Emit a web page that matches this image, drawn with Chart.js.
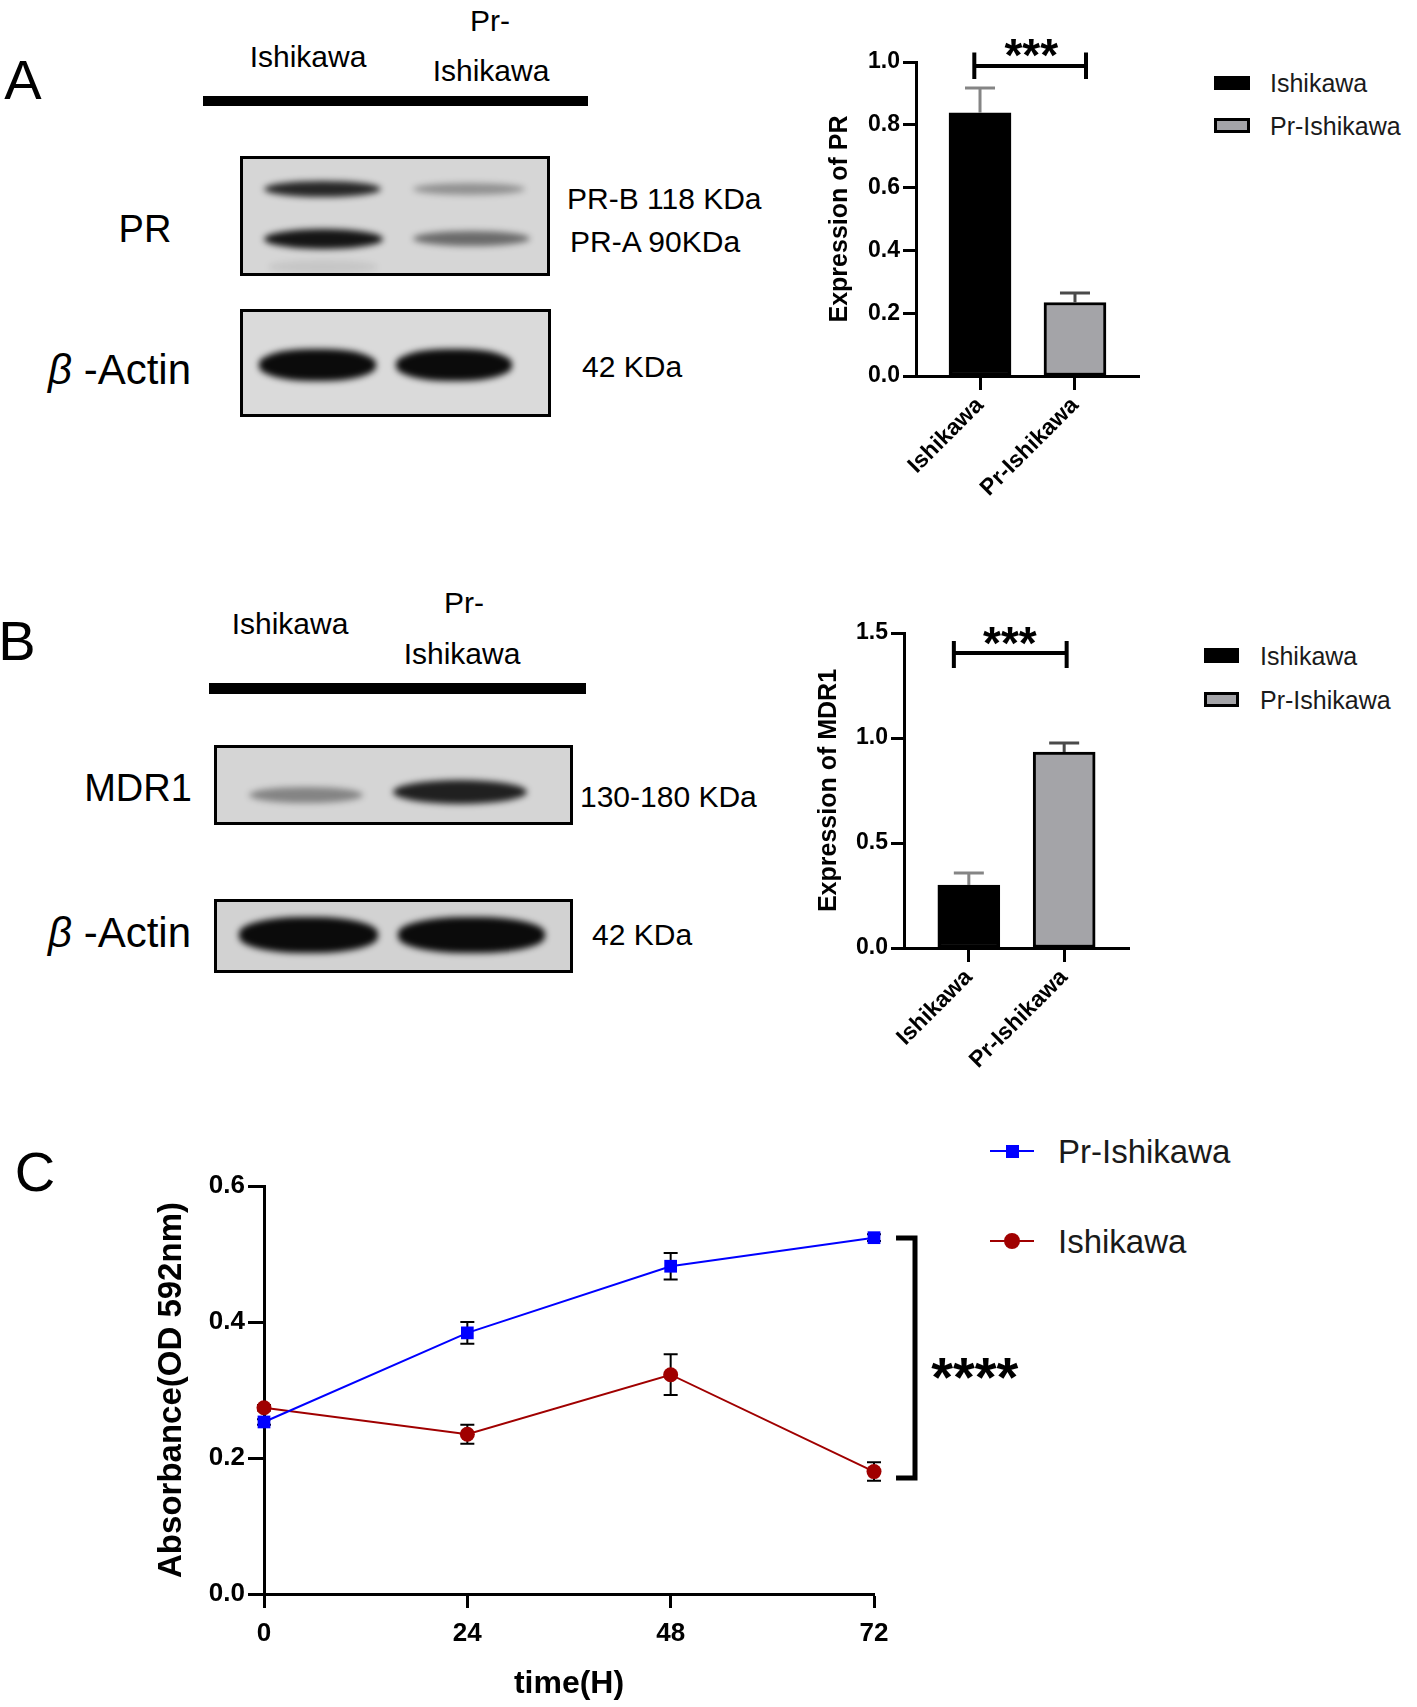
<!DOCTYPE html>
<html>
<head>
<meta charset="utf-8">
<script src="https://cdn.jsdelivr.net/npm/chart.js@4.4.1/dist/chart.umd.min.js"></script>
<style>
  html, body { margin:0; padding:0; background:#fff; }
  #page { position:relative; width:1417px; height:1707px; overflow:hidden; background:#fff; }
  .t { position:absolute; font-family:'Liberation Sans', Arial, sans-serif; color:#000; white-space:nowrap; line-height:1; }
  .c { transform:translate(-50%,-50%); }
  .l { transform:translateY(-50%); }
  .letter { font-size:56px; }
  .lane { font-size:30px; }
  .kda { font-size:30px; }
  .prot { font-size:38px; }
  .leg { font-size:25px; color:#1a1a1a; }
  .legC { font-size:33px; color:#1a1a1a; }
  .bar { position:absolute; background:#000; }
  .box { position:absolute; border:3px solid #000; box-sizing:border-box; overflow:hidden; }
  .band { position:absolute; border-radius:50%; filter:blur(3px); }
  .sw { position:absolute; box-sizing:border-box; }
  canvas { position:absolute; }
</style>
</head>
<body>
<div id="page">
  <!-- Panel A western blot -->
  <div class="t c letter" style="left:23px;top:80px;">A</div>
  <div class="t c lane" style="left:308px;top:57px;">Ishikawa</div>
  <div class="t c lane" style="left:490px;top:21px;">Pr-</div>
  <div class="t c lane" style="left:491px;top:71px;">Ishikawa</div>
  <div class="bar" style="left:203px;top:96px;width:385px;height:10px;"></div>
  <div class="t c prot" style="left:145px;top:229px;">PR</div>
  <div class="box" style="left:240px;top:156px;width:310px;height:120px;background:#d6d6d6;">
    <div class="band" style="left:21px;top:22px;width:117px;height:16px;background:rgba(0,0,0,0.82);"></div>
    <div class="band" style="left:170px;top:24px;width:112px;height:12px;background:rgba(0,0,0,0.32);"></div>
    <div class="band" style="left:21px;top:70px;width:119px;height:20px;background:rgba(0,0,0,0.9);"></div>
    <div class="band" style="left:170px;top:72px;width:117px;height:15px;background:rgba(0,0,0,0.5);"></div>
    <div class="band" style="left:25px;top:101px;width:110px;height:14px;background:rgba(0,0,0,0.07);"></div>
  </div>
  <div class="t l kda" style="left:567px;top:199px;">PR-B 118 KDa</div>
  <div class="t l kda" style="left:570px;top:242px;">PR-A 90KDa</div>
  <div class="t l" style="left:48px;top:370px;font-size:42px;"><i>β</i> -Actin</div>
  <div class="box" style="left:240px;top:309px;width:311px;height:108px;background:#dadada;">
    <div class="band" style="left:16px;top:37px;width:117px;height:32px;background:rgba(0,0,0,0.95);border-radius:45%;"></div>
    <div class="band" style="left:153px;top:37px;width:116px;height:32px;background:rgba(0,0,0,0.95);border-radius:45%;"></div>
  </div>
  <div class="t l kda" style="left:582px;top:367px;">42 KDa</div>

  <!-- Panel B western blot -->
  <div class="t c letter" style="left:17px;top:641px;">B</div>
  <div class="t c lane" style="left:290px;top:624px;">Ishikawa</div>
  <div class="t c lane" style="left:464px;top:603px;">Pr-</div>
  <div class="t c lane" style="left:462px;top:654px;">Ishikawa</div>
  <div class="bar" style="left:209px;top:683px;width:377px;height:11px;"></div>
  <div class="t c prot" style="left:138px;top:788px;">MDR1</div>
  <div class="box" style="left:214px;top:745px;width:359px;height:80px;background:#d5d5d5;">
    <div class="band" style="left:32px;top:39px;width:114px;height:16px;background:rgba(0,0,0,0.38);"></div>
    <div class="band" style="left:176px;top:32px;width:134px;height:24px;background:rgba(0,0,0,0.85);"></div>
  </div>
  <div class="t l kda" style="left:580px;top:797px;">130-180 KDa</div>
  <div class="t l" style="left:48px;top:933px;font-size:42px;"><i>β</i> -Actin</div>
  <div class="box" style="left:214px;top:899px;width:359px;height:74px;background:#d2d2d2;">
    <div class="band" style="left:22px;top:15px;width:139px;height:36px;background:rgba(0,0,0,0.95);border-radius:45%;"></div>
    <div class="band" style="left:181px;top:15px;width:147px;height:36px;background:rgba(0,0,0,0.95);border-radius:45%;"></div>
  </div>
  <div class="t l kda" style="left:592px;top:935px;">42 KDa</div>

  <!-- Panel C letter -->
  <div class="t c letter" style="left:35px;top:1172px;">C</div>

  <!-- Legends A -->
  <div class="sw" style="left:1214px;top:76px;width:36px;height:14px;background:#000;"></div>
  <div class="t l leg" style="left:1270px;top:83px;">Ishikawa</div>
  <div class="sw" style="left:1214px;top:118px;width:36px;height:15px;background:#a4a4a8;border:3px solid #000;"></div>
  <div class="t l leg" style="left:1270px;top:126px;">Pr-Ishikawa</div>
  <!-- Legends B -->
  <div class="sw" style="left:1204px;top:648px;width:35px;height:15px;background:#000;"></div>
  <div class="t l leg" style="left:1260px;top:656px;">Ishikawa</div>
  <div class="sw" style="left:1204px;top:692px;width:35px;height:15px;background:#a4a4a8;border:3px solid #000;"></div>
  <div class="t l leg" style="left:1260px;top:700px;">Pr-Ishikawa</div>
  <!-- Legend C -->
  <div class="sw" style="left:990px;top:1150px;width:44px;height:2px;background:#0000ff;"></div>
  <div class="sw" style="left:1006px;top:1145px;width:13px;height:13px;background:#0000ff;"></div>
  <div class="t l legC" style="left:1058px;top:1151px;">Pr-Ishikawa</div>
  <div class="sw" style="left:990px;top:1240px;width:44px;height:2px;background:#a00000;"></div>
  <div class="sw" style="left:1004px;top:1233px;width:16px;height:16px;background:#a00000;border-radius:50%;"></div>
  <div class="t l legC" style="left:1058px;top:1241px;">Ishikawa</div>

  <canvas id="chartA" width="380" height="520" style="left:780px;top:0px;"></canvas>
  <canvas id="chartB" width="380" height="520" style="left:780px;top:560px;"></canvas>
  <canvas id="chartC" width="880" height="607" style="left:140px;top:1100px;"></canvas>
</div>

<script>
// ---------------- DATA ----------------
const barCategories = ['Ishikawa', 'Pr-Ishikawa'];
const prExpression = [0.838, 0.234];
const prExpressionErr = [0.079, 0.030];
const mdr1Expression = [0.300, 0.933];
const mdr1ExpressionErr = [0.057, 0.043];

const timeHours = [0, 24, 48, 72];
const absPrIshikawa = [0.253, 0.384, 0.482, 0.524];
const absPrIshikawaErr = [0.004, 0.016, 0.0195, 0.005];
const absIshikawa = [0.274, 0.235, 0.3225, 0.180];
const absIshikawaErr = [0.004, 0.014, 0.030, 0.0136];

const sigBars = '***';
const sigLine = '****';

// ---------------- HELPERS ----------------
const FONT = "'Liberation Sans', Arial, sans-serif";
Chart.defaults.font.family = FONT;
Chart.defaults.color = '#000';

function makeErrorPlugin(id, sets, when) {
  const hook = when === 'before' ? 'beforeDatasetsDraw' : 'afterDatasetsDraw';
  const p = { id };
  p[hook] = function (chart) {
    const ctx = chart.ctx, xs = chart.scales.x, ys = chart.scales.y;
    ctx.save();
    sets.forEach(set => {
      set.values.forEach((v, i) => {
        const x = xs.getPixelForValue(set.xs[i]);
        const yTop = ys.getPixelForValue(v + set.errs[i]);
        const yBot = set.both ? ys.getPixelForValue(v - set.errs[i]) : ys.getPixelForValue(v);
        ctx.strokeStyle = Array.isArray(set.color) ? set.color[i] : set.color;
        ctx.lineWidth = set.width;
        ctx.beginPath();
        ctx.moveTo(x, yBot); ctx.lineTo(x, yTop);
        ctx.moveTo(x - set.cap / 2, yTop); ctx.lineTo(x + set.cap / 2, yTop);
        if (set.both) { ctx.moveTo(x - set.cap / 2, yBot); ctx.lineTo(x + set.cap / 2, yBot); }
        ctx.stroke();
      });
    });
    ctx.restore();
  };
  return p;
}

function drawStars(ctx, text, cx, cy, size) {
  ctx.save();
  ctx.font = 'bold ' + size + 'px ' + FONT;
  ctx.fillStyle = '#000';
  ctx.textAlign = 'center';
  ctx.textBaseline = 'alphabetic';
  ctx.fillText(text, cx, cy + 0.56 * size);
  ctx.restore();
}

function makeHBracketPlugin(id, b) {
  return {
    id,
    afterDatasetsDraw(chart) {
      const ctx = chart.ctx, xs = chart.scales.x, ys = chart.scales.y;
      const x1 = xs.getPixelForValue(b.x1), x2 = xs.getPixelForValue(b.x2);
      const y = ys.getPixelForValue(b.y), yHi = ys.getPixelForValue(b.yHi), yLo = ys.getPixelForValue(b.yLo);
      ctx.save();
      ctx.strokeStyle = '#000'; ctx.lineWidth = 4; ctx.lineCap = 'butt';
      ctx.beginPath();
      ctx.moveTo(x1, y); ctx.lineTo(x2, y);
      ctx.moveTo(x1, yHi); ctx.lineTo(x1, yLo);
      ctx.moveTo(x2, yHi); ctx.lineTo(x2, yLo);
      ctx.stroke();
      ctx.restore();
      drawStars(ctx, b.text, xs.getPixelForValue(b.tx), ys.getPixelForValue(b.ty), b.size);
    }
  };
}

function makeVBracketPlugin(id, b) {
  return {
    id,
    afterDatasetsDraw(chart) {
      const ctx = chart.ctx, xs = chart.scales.x, ys = chart.scales.y;
      const xL = xs.getPixelForValue(b.xL), xR = xs.getPixelForValue(b.xR);
      const yT = ys.getPixelForValue(b.yT), yB = ys.getPixelForValue(b.yB);
      ctx.save();
      ctx.strokeStyle = '#000'; ctx.lineWidth = 5; ctx.lineJoin = 'miter';
      ctx.beginPath();
      ctx.moveTo(xL, yT); ctx.lineTo(xR, yT); ctx.lineTo(xR, yB); ctx.lineTo(xL, yB);
      ctx.stroke();
      ctx.restore();
      drawStars(ctx, b.text, xs.getPixelForValue(b.tx), ys.getPixelForValue(b.ty), b.size);
    }
  };
}

function barChart(canvasId, values, errs, yMax, yStep, yTitle, layout, yWidth, xHeight, xMin, xMax, bracket) {
  const fixX = s => { s.min = xMin; s.max = xMax; };
  return new Chart(document.getElementById(canvasId), {
    type: 'bar',
    data: {
      datasets: [{
        data: values.map((v, i) => ({ x: i, y: v })),
        backgroundColor: ['#000000', '#a4a4a8'],
        borderColor: '#000',
        borderWidth: 3,
        borderSkipped: false,
        barThickness: 62,
        grouped: false
      }]
    },
    options: {
      responsive: false,
      devicePixelRatio: 1,
      animation: false,
      layout: { padding: layout },
      plugins: { legend: { display: false }, tooltip: { enabled: false } },
      scales: {
        x: {
          type: 'linear', min: xMin, max: xMax, offset: false, bounds: 'data', grace: 0,
          afterDataLimits: fixX,
          afterBuildTicks: s => { s.ticks = barCategories.map((_, i) => ({ value: i })); fixX(s); },
          afterFit: s => { s.height = xHeight; },
          ticks: {
            callback: v => barCategories[v] !== undefined ? barCategories[v] : '',
            minRotation: 45, maxRotation: 45, autoSkip: false,
            font: { size: 23, weight: 'bold' }, color: '#000', padding: 2
          },
          grid: { display: true, offset: false, drawOnChartArea: false, drawTicks: true, tickLength: 14, tickWidth: 3, color: '#000' },
          border: { display: true, width: 3, color: '#000' }
        },
        y: {
          min: 0, max: yMax,
          afterFit: s => { s.width = yWidth; },
          ticks: { stepSize: yStep, callback: v => Number(v).toFixed(1), font: { size: 23, weight: 'bold' }, color: '#000', padding: 3 },
          grid: { display: true, drawOnChartArea: false, drawTicks: true, tickLength: 13, tickWidth: 3, color: '#000' },
          border: { display: true, width: 3, color: '#000' },
          title: { display: true, text: yTitle, font: { size: 25, weight: 'bold' }, color: '#000', padding: { top: 4, bottom: 4 } }
        }
      }
    },
    plugins: [
      makeErrorPlugin(canvasId + 'err', [{ xs: [0, 1], values, errs, both: false, color: ['#858585', '#4a4a4a'], width: 3, cap: 30 }], 'after'),
      makeHBracketPlugin(canvasId + 'sig', bracket)
    ]
  });
}

// ---------------- PANEL A bar ----------------
barChart('chartA', prExpression, prExpressionErr, 1.0, 0.2, 'Expression of PR',
  { left: 41, top: 62, right: 21, bottom: 0 }, 95, 144, -0.674, 1.674,
  { x1: -0.06, x2: 1.116, y: 0.987, yHi: 1.03, yLo: 0.946, text: sigBars, tx: 0.54, ty: 1.054, size: 46 });

// ---------------- PANEL B bar ----------------
barChart('chartB', mdr1Expression, mdr1ExpressionErr, 1.5, 0.5, 'Expression of MDR1',
  { left: 30, top: 73, right: 31, bottom: 0 }, 94, 132, -0.68, 1.68,
  { x1: -0.157, x2: 1.026, y: 1.405, yHi: 1.462, yLo: 1.333, text: sigBars, tx: 0.43, ty: 1.5, size: 46 });

// ---------------- PANEL C line ----------------
new Chart(document.getElementById('chartC'), {
  type: 'line',
  data: {
    datasets: [
      {
        label: 'Pr-Ishikawa',
        data: timeHours.map((t, i) => ({ x: t, y: absPrIshikawa[i] })),
        borderColor: '#0000ff', backgroundColor: '#0000ff', borderWidth: 2,
        pointStyle: 'rect', pointRadius: 9, pointBorderWidth: 0,
        pointBackgroundColor: '#0000ff', tension: 0, clip: false
      },
      {
        label: 'Ishikawa',
        data: timeHours.map((t, i) => ({ x: t, y: absIshikawa[i] })),
        borderColor: '#a00000', backgroundColor: '#a00000', borderWidth: 2,
        pointStyle: 'circle', pointRadius: 7.5, pointBorderWidth: 0,
        pointBackgroundColor: '#a00000', tension: 0, clip: false
      }
    ]
  },
  options: {
    responsive: false,
    devicePixelRatio: 1,
    animation: false,
    layout: { padding: { left: 8, top: 86, right: 146, bottom: 0 } },
    plugins: { legend: { display: false }, tooltip: { enabled: false } },
    scales: {
      x: {
        type: 'linear', min: 0, max: 72,
        afterFit: s => { s.height = 113; },
        ticks: { stepSize: 24, font: { size: 26, weight: 'bold' }, color: '#000', padding: 10, maxRotation: 0 },
        grid: { display: true, drawOnChartArea: false, drawTicks: true, tickLength: 14, tickWidth: 3, color: '#000' },
        border: { display: true, width: 3, color: '#000' },
        title: { display: true, text: 'time(H)', font: { size: 32, weight: 'bold' }, color: '#000', padding: { top: 4, bottom: 4 } }
      },
      y: {
        min: 0, max: 0.6,
        afterFit: s => { s.width = 116; },
        ticks: { stepSize: 0.2, callback: v => Number(v).toFixed(1), font: { size: 26, weight: 'bold' }, color: '#000', padding: 3 },
        grid: { display: true, drawOnChartArea: false, drawTicks: true, tickLength: 16, tickWidth: 3, color: '#000' },
        border: { display: true, width: 3, color: '#000' },
        title: { display: true, text: 'Absorbance(OD 592nm)', font: { size: 33, weight: 'bold' }, color: '#000', padding: { top: 4, bottom: 4 } }
      }
    }
  },
  plugins: [
    makeErrorPlugin('cErr', [
      { xs: timeHours, values: absPrIshikawa, errs: absPrIshikawaErr, both: true, color: '#000', width: 2, cap: 14 },
      { xs: timeHours, values: absIshikawa, errs: absIshikawaErr, both: true, color: '#000', width: 2, cap: 14 }
    ], 'before'),
    makeVBracketPlugin('cSig', { xL: 74.6, xR: 76.84, yT: 0.5235, yB: 0.1706, text: sigLine, tx: 83.9, ty: 0.338, size: 56 })
  ]
});
</script>
</body>
</html>
